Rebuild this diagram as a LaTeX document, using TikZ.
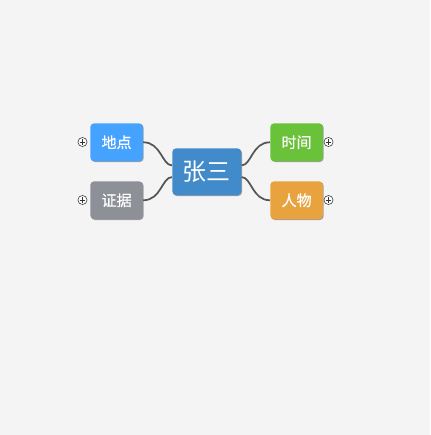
\documentclass[tikz,border=0pt]{standalone}
\usepackage{fontspec}
\newfontfamily\cjk{Noto Sans CJK SC}
\newfontfamily\cjkb[FakeBold=0.5]{Noto Sans CJK SC}
\usetikzlibrary{shadows}
\definecolor{bg}{HTML}{F4F4F4}
\definecolor{cmain}{HTML}{428BCA}
\definecolor{cblue}{HTML}{45A2FF}
\definecolor{cgreen}{HTML}{6AC13A}
\definecolor{cgray}{HTML}{8E9098}
\definecolor{corange}{HTML}{E8A33E}
\definecolor{cline}{HTML}{555555}
\tikzset{
  px/.style={x=0.75pt,y=-0.75pt},
  topic/.style={rounded corners=3pt, text=white, inner sep=0pt, anchor=north west,
     drop shadow={shadow xshift=0.6pt, shadow yshift=-0.6pt, opacity=0.35, fill=black}},
  sub/.style={topic, minimum width=39.5pt, minimum height=28.5pt, font=\cjkb\fontsize{11.3pt}{12pt}\selectfont},
  link/.style={draw=cline, line width=1.3pt},
  plus/.style={circle, draw=black!70, fill=white, minimum size=6.8pt, inner sep=0pt, line width=0.5pt}
}
\begin{document}
\begin{tikzpicture}[px]
\fill[bg] (0,0) rectangle (430,435);
\useasboundingbox (0,0) rectangle (430,435);
\node[topic, fill=cmain, minimum width=51.75pt, minimum height=35.25pt, font=\cjk\fontsize{18pt}{18pt}\selectfont] (c) at (172,148) {张三};
\node[sub, fill=cblue] (a) at (90,123) {地点};
\node[sub, fill=cgray] (b) at (90,181) {证据};
\node[sub, fill=cgreen] (d) at (270,123) {时间};
\node[sub, fill=corange] (e) at (270,181) {人物};
\draw[link] (a.east) .. controls +(18,0) and +(-10,0) .. ([yshift=4.8pt]c.west);
\draw[link] (b.east) .. controls +(18,0) and +(-10,0) .. ([yshift=-4pt]c.west);
\draw[link] (d.west) .. controls +(-18,0) and +(10,0) .. ([yshift=4.8pt]c.east);
\draw[link] (e.west) .. controls +(-18,0) and +(10,0) .. ([yshift=-4pt]c.east);
\node[plus] (pa) at (82.5,142) {};
\node[plus] (pb) at (82.5,200) {};
\node[plus] (pd) at (328.5,142) {};
\node[plus] (pe) at (328.5,200) {};
\foreach \p in {pa,pb,pd,pe}{
  \draw[line width=0.5pt, black!80] ([xshift=-2.2pt]\p.center) -- ([xshift=2.2pt]\p.center);
  \draw[line width=0.5pt, black!80] ([yshift=-2.2pt]\p.center) -- ([yshift=2.2pt]\p.center);
}
\end{tikzpicture}
\end{document}
